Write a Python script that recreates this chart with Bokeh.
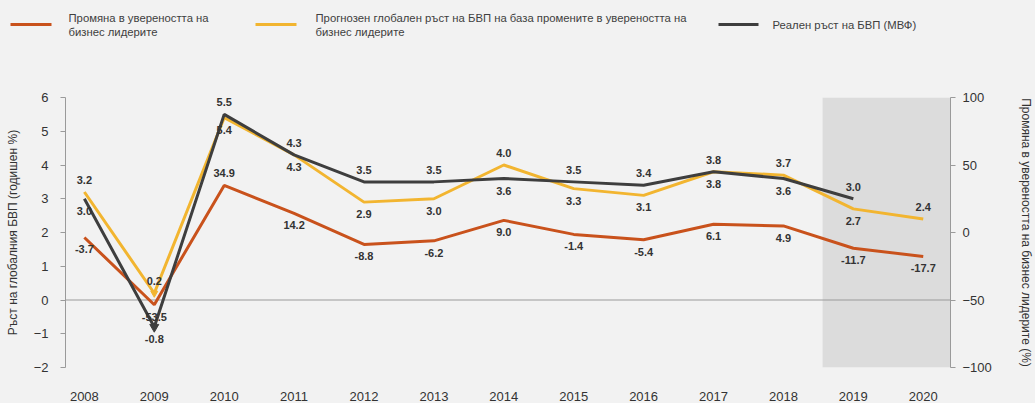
from bokeh.plotting import figure
from bokeh.layouts import column
from bokeh.models import Range1d, LinearAxis, FixedTicker, Span, BoxAnnotation
from bokeh.core.properties import value
from bokeh.embed import file_html
from bokeh.resources import INLINE

years = [2008, 2009, 2010, 2011, 2012, 2013, 2014, 2015, 2016, 2017, 2018, 2019, 2020]
confidence = [-3.7, -53.5, 34.9, 14.2, -8.8, -6.2, 9.0, -1.4, -5.4, 6.1, 4.9, -11.7, -17.7]
forecast = [3.2, 0.2, 5.4, 4.3, 2.9, 3.0, 4.0, 3.3, 3.1, 3.8, 3.7, 2.7, 2.4]
actual_years = [2008, 2009, 2010, 2011, 2012, 2013, 2014, 2015, 2016, 2017, 2018, 2019]
actual = [3.0, -0.8, 5.5, 4.3, 3.5, 3.5, 3.6, 3.5, 3.4, 3.8, 3.6, 3.0]

legend_labels = [
    ["Промяна в увереността на", "бизнес лидерите"],
    ["Прогнозен глобален ръст на БВП  на база промените в увереността на", "бизнес лидерите"],
    ["Реален  ръст на БВП  (МВФ)"],
]
left_title = "Ръст на глобалния БВП (годишен %)"
right_title = "Промяна в увереността на бизнес лидерите (%)"

ORANGE = "#c9521c"
YELLOW = "#f2b530"
GRAY = "#3e3e3e"
TXT = "#333333"
BG = "#f2f2f2"
FONT = "Liberation Sans"

W = 1035
LEG_H = 68
MAIN_H = 335

# ---------- legend strip (page pixel coordinates) ----------
leg = figure(width=W, height=LEG_H, output_backend="svg", toolbar_location=None,
             x_axis_location=None, y_axis_location=None,
             x_range=Range1d(0, W), y_range=Range1d(LEG_H, 0),
             min_border=0, background_fill_color=BG, border_fill_color=BG,
             outline_line_color=None)
leg.frame_align = False
leg.grid.visible = False
sw = [(10, 51, ORANGE, 68), (255, 296, YELLOW, 315), (718, 758, GRAY, 772)]
for (x0, x1, col, tx), lines in zip(sw, legend_labels):
    leg.segment(x0=[x0], y0=[24], x1=[x1], y1=[24], line_color=col, line_width=3)
    ys = [24] if len(lines) == 1 else [17, 31]
    leg.text([tx] * len(lines), ys, text=lines, text_font=value(FONT), text_font_size="11.3px",
             text_color="#404040", text_baseline="middle", text_align="left")

# ---------- main chart ----------
XS, XE = 2007.73, 2020.39
p = figure(width=W, height=MAIN_H, output_backend="svg", toolbar_location=None,
           x_range=Range1d(XS, XE), y_range=Range1d(-2, 6),
           min_border_left=65, min_border_right=72, min_border_top=29, min_border_bottom=34,
           background_fill_color=BG, border_fill_color=BG, outline_line_color=None)
p.frame_align = False
p.grid.visible = False
p.extra_y_ranges = {"conf": Range1d(-100, 100)}

p.add_layout(BoxAnnotation(left=2018.56, fill_color="#dcdcdc", fill_alpha=1, line_alpha=0, level="underlay"))
p.add_layout(Span(location=0, dimension="width", line_color="#9a9a9a", line_width=1, level="underlay"))

p.line(years, confidence, y_range_name="conf", line_color=ORANGE, line_width=3)
p.line(years, forecast, line_color=YELLOW, line_width=3)
p.line(actual_years, actual, line_color=GRAY, line_width=3)
p.scatter([2009], [forecast[1]], marker="inverted_triangle", size=7, fill_color=YELLOW, line_color=YELLOW)
p.scatter([2009], [actual[1]], marker="inverted_triangle", size=9, fill_color=GRAY, line_color=GRAY)

ax, ay, at, bx, by, bt = [], [], [], [], [], []
for i, yr in enumerate(years):
    f = forecast[i]
    if i < len(actual):
        a = actual[i]
        hi, lo = (a, f) if a >= f else (f, a)
        ax.append(yr); ay.append(hi); at.append(f"{hi:.1f}")
        bx.append(yr); by.append(lo); bt.append(f"{lo:.1f}")
    else:
        ax.append(yr); ay.append(f); at.append(f"{f:.1f}")
lbl = dict(text_font=value(FONT), text_font_size="11px", text_font_style="bold",
           text_color=TXT, text_align="center")
p.text(ax, ay, text=at, text_baseline="bottom", y_offset=-8, **lbl)
p.text(bx, by, text=bt, text_baseline="top", y_offset=8, **lbl)

cx_up = [yr for yr, c in zip(years, confidence) if c > 30]
cy_up = [c for c in confidence if c > 30]
cx_dn = [yr for yr, c in zip(years, confidence) if c <= 30]
cy_dn = [c for c in confidence if c <= 30]
p.text(cx_up, cy_up, text=[f"{c:.1f}" for c in cy_up], y_range_name="conf",
       text_baseline="bottom", y_offset=-8, **lbl)
p.text(cx_dn, cy_dn, text=[f"{c:.1f}" for c in cy_dn], y_range_name="conf",
       text_baseline="top", y_offset=8, **lbl)

p.xaxis.ticker = FixedTicker(ticks=years)
p.xaxis.axis_line_color = None
p.xaxis.major_tick_line_color = None
p.xaxis.minor_tick_line_color = None
p.xaxis.major_label_standoff = 18
p.xaxis.major_label_text_font = FONT
p.xaxis.major_label_text_font_size = "13px"
p.xaxis.major_label_text_color = TXT

def style_y(axis):
    axis.axis_line_color = "#9a9a9a"
    axis.major_tick_line_color = "#9a9a9a"
    axis.minor_tick_line_color = None
    axis.major_tick_out = 5
    axis.major_tick_in = 0
    axis.major_label_text_font = FONT
    axis.major_label_text_font_size = "13px"
    axis.major_label_text_color = TXT
    axis.axis_label_text_font = FONT
    axis.axis_label_text_font_size = "12px"
    axis.axis_label_text_font_style = "normal"
    axis.axis_label_text_color = TXT

p.yaxis.ticker = FixedTicker(ticks=[-2, -1, 0, 1, 2, 3, 4, 5, 6])
p.yaxis.axis_label = left_title
p.yaxis.major_label_standoff = 12
p.yaxis.axis_label_standoff = 11
style_y(p.yaxis[0])

ra = LinearAxis(y_range_name="conf", ticker=FixedTicker(ticks=[-100, -50, 0, 50, 100]),
                axis_label=right_title)
style_y(ra)
ra.major_label_standoff = 7
ra.axis_label_standoff = 24
p.add_layout(ra, "right")

page = column(leg, p, spacing=0, styles={"background-color": BG})
open("out.html", "w").write(file_html(page, INLINE))
